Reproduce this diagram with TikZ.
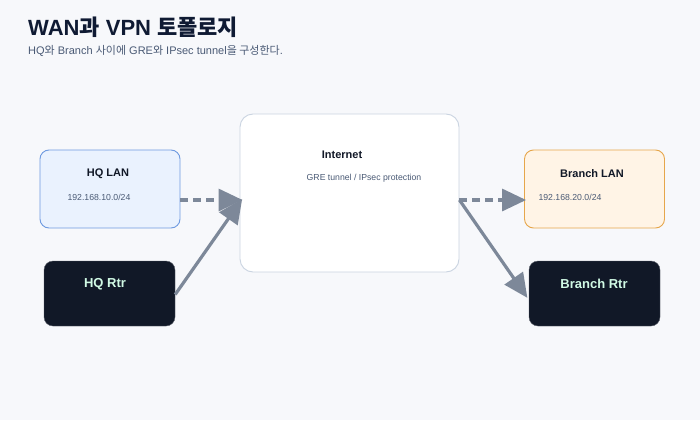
\documentclass[tikz,border=0pt]{standalone}
\usepackage{fontspec}
\setmainfont{Liberation Sans}
\newfontfamily\krfont{Noto Sans CJK KR}
\newcommand\kr[1]{{\krfont #1}}
\usetikzlibrary{positioning,arrows.meta}
\definecolor{bgcol}{HTML}{F7F8FB}
\definecolor{inkcol}{HTML}{111827}
\definecolor{headcol}{HTML}{0F1A33}
\definecolor{subcol}{HTML}{4A5A75}
\definecolor{linkcol}{HTML}{7D8899}
\definecolor{lanblue}{HTML}{EAF2FE}
\definecolor{lanbluedraw}{HTML}{6E9AE0}
\definecolor{lanorange}{HTML}{FFF4E6}
\definecolor{lanorangedraw}{HTML}{E6A64B}
\definecolor{cloudrule}{HTML}{CAD4E1}
\definecolor{rtrtext}{HTML}{D1FAE5}
\tikzset{
  lanbox/.style={
    rectangle, rounded corners=9pt,
    minimum width=140pt, minimum height=78pt,
    line width=0.9pt
  },
  rtrbox/.style={
    rectangle, rounded corners=9pt, fill=inkcol, draw=inkcol!70,
    minimum width=131pt, minimum height=65pt
  },
  boxtitle/.style={font=\bfseries\fontsize{11}{13}\selectfont, text=inkcol},
  boxsub/.style={font=\fontsize{8.7}{10}\selectfont, text=subcol, anchor=west},
  rtrtitle/.style={font=\bfseries\fontsize{13}{15}\selectfont, text=rtrtext},
  link/.style={draw=linkcol, line width=3.2pt,
    -{Triangle[length=24pt,width=22pt]}, shorten >=-1pt},
  dashlink/.style={link, dash pattern=on 8pt off 5pt}
}

\begin{document}
\begin{tikzpicture}[x=1pt,y=-1pt]
\useasboundingbox[fill=bgcol] (0,0) rectangle (700,420);

% heading
\node[anchor=base west, inner sep=0pt, text=headcol,
      font=\bfseries\fontsize{22}{26}\selectfont] (heading) at (28,35)
  {WAN\kr{과} VPN \kr{토폴로지}};
\node[anchor=base west, inner sep=0pt, text=subcol,
      font=\fontsize{11}{13}\selectfont] (subheading) at (28,55)
  {HQ\kr{와} Branch \kr{사이에} GRE\kr{와} IPsec tunnel\kr{을 구성한다}.};

% boxes
\node[lanbox, fill=lanblue, draw=lanbluedraw] (hqlan) at (110,189) {};
\node[rtrbox] (hqrtr) at (109.5,293.5) {};
\node[rectangle, rounded corners=13pt, fill=white, draw=cloudrule, line width=0.9pt,
      minimum width=219pt, minimum height=158pt] (internet) at (349.5,193) {};
\node[lanbox, fill=lanorange, draw=lanorangedraw] (brlan) at (594.5,189) {};
\node[rtrbox] (brrtr) at (594.5,293.5) {};

% labels
\node[boxtitle] (hqlan-title) at (108,174) {HQ LAN};
\node[boxsub] (hqlan-net) at (64,197) {192.168.10.0/24};
\node[rtrtitle] (hqrtr-title) at (105,284) {HQ Rtr};
\node[boxtitle] (internet-title) at (342,155) {Internet};
\node[font=\fontsize{8.7}{10}\selectfont, text=subcol] (internet-sub) at (364,178)
  {GRE tunnel / IPsec protection};
\node[boxtitle] (brlan-title) at (592,174) {Branch LAN};
\node[boxsub] (brlan-net) at (535,197) {192.168.20.0/24};
\node[rtrtitle] (brrtr-title) at (594,284) {Branch Rtr};

% link ends
\coordinate (lvl) at (0,200);
\coordinate (lvlrtr) at (0,297);
\coordinate (hqout) at (hqlan.east |- lvl);
\coordinate (netin) at ([xshift=2pt]internet.west |- lvl);
\coordinate (netout) at (internet.east |- lvl);
\coordinate (brin) at ([xshift=1pt]brlan.west |- lvl);
\coordinate (rtrin) at ([xshift=-2pt]brrtr.west |- lvlrtr);

\draw[dashlink] (hqout) -- (netin);
\draw[link] ([yshift=-1pt]hqrtr.east) -- (netin);
\draw[dashlink] (netout) -- (brin);
\draw[link] (netout) -- (rtrin);

\end{tikzpicture}
\end{document}
